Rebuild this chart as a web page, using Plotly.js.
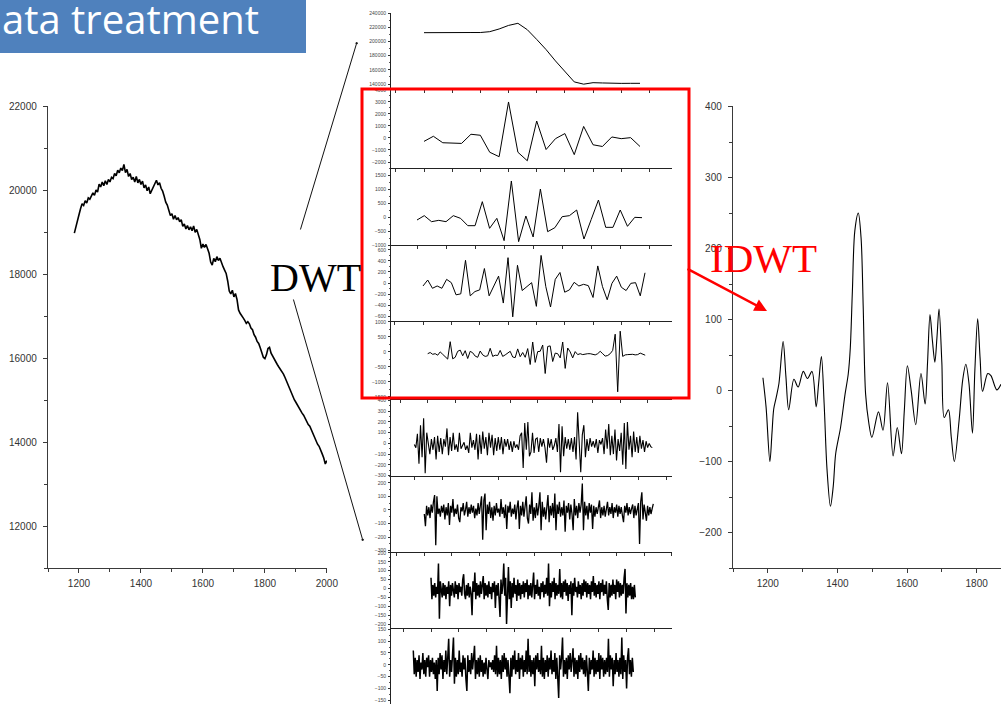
<!DOCTYPE html>
<html><head><meta charset="utf-8">
<script src="https://cdn.plot.ly/plotly-3.0.1.min.js"></script>
<style>html,body{margin:0;padding:0;background:#fff;overflow:hidden}#chart{width:1001px;height:704px}</style>
</head><body><div id="chart"></div>
<script>
// ---------- DATA ----------
// Left: raw spectrum (wavenumber sampled every 5 from 1185 to 2000)
const leftStart = 1185, leftStep = 5;
const leftY = [18980,19150,19330,19420,19560,19680,19640,19750,19700,19820,19790,19880,19940,19880,20010,19960,20150,20080,20200,20110,
20230,20140,20260,20200,20310,20280,20400,20350,20480,20420,20530,20470,20620,20420,20500,20330,20400,20260,20310,20200,
20330,20180,20260,20140,20220,20060,20130,19990,20080,19920,20000,20080,20170,20240,20130,20180,20050,19980,19860,19720,
19650,19550,19400,19440,19310,19400,19300,19350,19250,19300,19140,19200,19080,19160,19060,19130,19040,19150,19000,19070,
18960,18830,18620,18720,18640,18710,18610,18500,18290,18220,18380,18300,18420,18330,18380,18260,18180,18100,18020,17840,
17600,17530,17620,17460,17540,17400,17150,17070,17000,16960,16900,16830,16870,16820,16720,16680,16560,16500,16400,16350,
16250,16120,16020,15990,16080,16230,16260,16120,16050,15960,15920,15850,15790,15740,15690,15620,15540,15450,15380,15260,
15200,15090,15010,14950,14880,14820,14760,14690,14640,14560,14520,14420,14380,14290,14220,14130,14060,13950,13900,13780,
13720,13620,13480,13560];

// Middle: DWT coefficients (index-based)
const approxA = [212300,212500,212800,212800,212800,212500,212500,213700,217500,222500,225500,216500,202800,188500,172500,157000,143000,139800,141900,141500,140800,140900,141000,141000];
const detailB = [-283,142,-396,-396,-453,311,226,-1189,-1557,3000,-1189,-1896,1415,-962,-57,368,-1387,962,-566,-708,85,-57,28,-708];
const detailC = [-107,48,-167,-119,-167,48,-48,-310,-310,548,-405,-48,-845,1286,-881,36,-714,1000,-524,-381,12,48,250,-786,-90,607,-369,-369,250,-333,-12,-24];
const detailD = [-54,54,-96,-54,-96,66,6,-215,-197,412,-233,-155,-125,263,-233,-66,125,-364,460,-615,322,-137,-66,6,-424,501,-66,-436,66,191,-167,-125,12,-54,-24,-48,-263,310,-66,-304,-6,125,-78,-137,-6,6,-233,185];
const detailE = [-60,-20,-80,-60,-110,0,-80,-150,-240,340,-230,-180,20,60,-130,40,-220,20,-30,-140,-180,30,-100,-150,-130,120,-150,-110,-120,50,
-150,-100,-50,20,-170,-190,100,-160,-20,-180,110,-420,330,-350,10,20,230,-720,180,200,-320,-40,-60,-200,330,-550,130,0,-200,10,
-90,-60,-90,-70,-60,-60,-80,-100,-60,20,-60,-140,-120,-60,50,590,-1330,690,-150,-100,-90,-80,-80,-100,-90,-40,-80,-110];
const detailF = [-10,-40,90,-190,170,-130,235,-280,100,-30,-100,40,-60,60,-150,70,-80,50,-100,40,
-30,140,-110,60,-70,100,-60,-10,-80,100,-50,-20,10,-60,-20,-90,100,-40,30,-60,
90,-150,80,-100,110,-50,60,-110,100,-40,80,-110,50,-70,60,-60,60,-100,40,-30,
40,-60,20,-80,20,-40,-10,-60,70,100,-230,190,-60,200,-120,-80,100,-90,40,50,
-80,50,-30,40,-40,-180,50,-40,40,-60,-20,50,-80,180,-270,160,-120,60,-50,40,
-60,50,-80,60,-150,290,-30,-270,80,170,-130,40,-70,50,-30,20,-40,40,-90,30,
-10,50,-100,130,-50,180,-110,70,-100,130,-160,40,-70,100,-200,190,-240,200,-60,70,
-130,110,-80,60,-90,70,-50,30,-80,20,-40,0,-30,-40];
const detailG = [-30,-120,30,-40,20,-60,40,-20,60,110,-260,100,-30,10,-50,30,-20,40,-70,20,
-40,50,-110,30,-20,80,-50,10,-30,40,-60,-90,20,-10,50,-40,0,60,-50,20,
-30,40,-20,30,-60,10,-40,50,-30,20,100,-220,70,120,-150,40,-30,60,-60,20,
-80,30,-40,50,-20,10,-50,80,-30,20,-60,40,-140,30,-20,60,-50,10,-30,40,
-70,20,70,-140,30,-40,60,-50,20,100,-60,-100,40,-30,130,-80,20,-60,50,-40,
30,130,-150,60,-50,20,-70,40,110,-90,30,-40,50,-60,120,-150,40,-30,60,-50,
20,-40,70,-160,30,-20,50,-70,40,-30,-150,80,-40,30,-60,50,-20,40,195,-150,
60,-40,30,-70,50,-20,40,-140,30,-50,20,-30,40,70,-60,20,-40,30,-50,10,
60,-40,20,-30,50,-60,20,-20,40,-50,30,-30,20,-40,-90,30,-20,50,-40,20,
-30,10,40,-60,30,-40,20,50,-250,60,130,-70,40,-30,-80,30,-40,20,-30,10,45];
const detailH = [60,-60,20,-40,30,-50,10,-30,140,-170,40,-20,-50,30,-40,20,-60,10,-30,40,
-100,20,-40,30,-10,-50,40,-30,20,-60,30,-20,10,-40,50,80,-30,-60,20,-40,
30,-50,10,-30,-150,40,-20,90,-60,30,-40,20,-50,40,-30,10,70,-60,30,-40,
20,-50,40,-30,10,-60,30,-20,40,-110,20,-40,30,-60,-160,50,-30,20,140,-40,
60,-200,30,120,-60,40,-110,30,-50,60,-30,20,-70,50,-40,30,-60,20,-30,40,
-50,30,-20,50,-60,20,-40,30,-50,40,90,-60,20,-30,50,-40,10,-60,30,-20,
40,-50,20,-30,60,-40,140,-100,30,-50,40,-20,60,-60,30,-40,20,-30,110,-50,
30,-60,40,-20,50,-40,30,-70,20,-30,40,-150,30,-40,60,-20,10,-50,40,-30,
20,-60,30,-40,50,-20,40,-50,30,-30,20,-60,40,-20,70,-40,30,-50,20,-30,
40,-60,30,-20,50,-40,20,-30,40,-60,-120,30,-50,20,-40,50,-30,20,-60,50,
-20,40,-50,30,-40,20,-30,60,110,-140,30,-50,20,-40,30,-60,10,-60,20,-50];
const detailI = [60,-40,30,-50,20,-30,40,-60,10,-20,50,-40,20,-50,30,-10,40,-50,20,-30,
30,-40,10,-60,20,-110,30,-40,50,-20,40,-60,20,-30,60,-40,30,110,-50,20,
-30,40,115,-80,30,-50,20,-40,60,-30,10,-50,40,-20,30,-60,-110,40,-30,20,
-40,50,-20,30,80,-60,20,-40,30,-50,40,-30,20,-50,10,-40,30,-20,-60,20,
-10,10,-20,20,-30,40,-40,80,-50,30,-40,20,-60,40,-30,50,-20,30,-50,20,
-40,-120,30,-50,40,-20,60,-40,20,-30,50,-60,30,-20,40,-50,20,-30,60,-40,
110,-30,40,-50,20,-40,30,-90,40,-20,50,-30,20,-40,80,-50,30,-60,20,-30,
40,-50,30,-20,60,-40,20,-30,50,-60,30,-40,-140,40,-20,30,115,-50,20,-40,
30,-60,40,-20,50,-30,20,70,-50,30,-40,20,-60,40,-30,50,-20,30,-40,20,
-50,40,-30,-110,30,-40,20,-20,60,-50,30,-40,20,-30,50,-60,40,-20,30,-50,
20,-40,30,-30,110,-50,40,-20,30,-90,20,-40,50,-30,20,-50,30,-40,115,-60,
40,-30,20,-100,30,70,-40,20,-50,30,-30];

// Right: reconstructed (IDWT) signal
const rightX = [1186,1195,1206,1212,1217,1224,1232,1244,1252,1260,1275,1287,1302,1314,1327,1339,1346,1354,1362,1370,
1380,1388,1395,1409,1422,1431,1437,1443,1450,1460,1468,1474,1481,1490,1499,1518,1531,1544,1560,1572,
1584,1592,1601,1612,1625,1640,1652,1659,1666,1673,1680,1686,1692,1700,1707,1719,1727,1736,1750,1760,
1769,1778,1788,1795,1803,1810,1817,1832,1841,1858,1870];
const rightY = [18,-23,-100,-60,-26,-10,10,69,20,-27,16,5,27,17,27,-23,10,48,-20,-110,
-163,-135,-89,-52,-5,23,60,140,225,250,215,120,-5,-45,-66,-30,-56,11,-92,-52,
-89,-30,35,0,-48,24,-19,40,107,70,40,75,115,40,-38,-27,-65,-100,-40,15,
37,10,-60,30,101,45,-1,24,21,1,9];

// Texts
const titleText = 'ata treatment';
const dwtText = 'DWT';
const idwtText = 'IDWT';

// ---------- LAYOUT ----------
const W = 1001, H = 704;
const fx = p => p / W, fy = p => 1 - p / H;
const AX = 'Liberation Sans, Arial, sans-serif';

const leftX = leftY.map((_, i) => leftStart + i * leftStep);

const traces = [];
const layout = {
  width: W, height: H, margin: {l:0, r:0, t:0, b:0},
  paper_bgcolor: '#fff', plot_bgcolor: 'rgba(0,0,0,0)', showlegend: false,
  shapes: [], annotations: []
};

function baseAxis(extra) {
  return Object.assign({
    showline: true, linecolor: '#3a3a3a', linewidth: 1.2, showgrid: false, zeroline: false,
    ticks: 'outside', ticklen: 4, tickwidth: 1, tickcolor: '#3a3a3a',
    tickfont: {family: AX, size: 10, color: '#333'}, tickformat: 'd', fixedrange: true
  }, extra);
}

// left chart
traces.push({x: leftX, y: leftY, xaxis: 'x', yaxis: 'y', type: 'scatter', mode: 'lines',
  line: {color: '#000', width: 1.6}, hoverinfo: 'skip'});
layout.xaxis = baseAxis({domain: [fx(48), fx(327)], range: [1100, 2000.5], anchor: 'y',
  tick0: 1200, dtick: 200, minor: {ticks: 'outside', ticklen: 2.5, dtick: 100, tick0: 1100, tickcolor: '#3a3a3a'}, ticklabelstandoff: 2});
layout.yaxis = baseAxis({domain: [fy(568), fy(106)], range: [11000, 22010], anchor: 'x',
  tick0: 12000, dtick: 2000, minor: {ticks: 'outside', ticklen: 2.5, dtick: 1000, tick0: 11000, tickcolor: '#3a3a3a'}, ticklabelstandoff: 4});

// right chart
traces.push({x: rightX, y: rightY, xaxis: 'x2', yaxis: 'y2', type: 'scatter', mode: 'lines',
  line: {color: '#000', width: 1.1, shape: 'spline', smoothing: 0.9}, hoverinfo: 'skip'});
layout.xaxis2 = baseAxis({domain: [fx(733), 1], range: [1100, 1870], anchor: 'y2',
  tick0: 1200, dtick: 200, minor: {ticks: 'outside', ticklen: 2.5, dtick: 100, tick0: 1100, tickcolor: '#3a3a3a'}, ticklabelstandoff: 2});
layout.yaxis2 = baseAxis({domain: [fy(568), fy(106)], range: [-250, 401], anchor: 'x2',
  tick0: 0, dtick: 100, minor: {ticks: 'outside', ticklen: 2.5, dtick: 50, tick0: 0, tickcolor: '#3a3a3a'}, ticklabelstandoff: 4});

// middle stack
const panels = [
  {v: approxA, p0: 424, p1: 640, top: 13, bot: 89, yr: [133000, 240001], dt: 20000, xdt: 3, lw: 1},
  {v: detailB, p0: 424, p1: 640, top: 89, bot: 168, yr: [-2500, 4080], dt: 1000, xdt: 3, lw: 1},
  {v: detailC, p0: 417, p1: 642, top: 168, bot: 245, yr: [-1000, 1750], dt: 500, xdt: 4, lw: 1},
  {v: detailD, p0: 423, p1: 645, top: 245, bot: 321, yr: [-690, 690], dt: 200, xdt: 6, lw: 1},
  {v: detailE, p0: 427.7, p1: 645.2, top: 321, bot: 399, yr: [-1570, 1030], dt: 500, xdt: 11, lw: 1},
  {v: detailF, p0: 414.3, p1: 652.3, top: 399, bot: 476, yr: [-305, 415], dt: 100, xdt: 18, lw: 1.1},
  {v: detailG, p0: 424.3, p1: 653.3, top: 476, bot: 552, yr: [-310, 250], dt: 100, xdt: 24, lw: 1.3},
  {v: detailH, p0: 431, p1: 635.3, top: 552, bot: 628, yr: [-222, 205], dt: 50, xdt: 30, lw: 1.5},
  {v: detailI, p0: 413.3, p1: 633.3, top: 628, bot: 704, yr: [-165, 155], dt: 50, xdt: 29, lw: 1.5}
];
const axL = 391, axR = 672;
panels.forEach((p, i) => {
  const n = i + 3;
  const xs = p.v.map((_, k) => k);
  const s = (p.p1 - p.p0) / (p.v.length - 1);
  traces.push({x: xs, y: p.v, xaxis: 'x' + n, yaxis: 'y' + n, type: 'scatter', mode: 'lines',
    line: {color: '#000', width: p.lw}, hoverinfo: 'skip'});
  layout['xaxis' + n] = {
    domain: [fx(axL), fx(axR)], range: [(axL - p.p0) / s, (axR - p.p0) / s], anchor: 'y' + n,
    showline: true, linecolor: '#222', linewidth: 1, showgrid: false, zeroline: false,
    showticklabels: false, ticks: 'outside', ticklen: 2.5, tickcolor: '#333', tick0: 0, dtick: p.xdt, fixedrange: true
  };
  layout['yaxis' + n] = {
    domain: [fy(p.bot), fy(p.top)], range: p.yr, anchor: 'x' + n,
    showline: true, linecolor: '#222', linewidth: 1, showgrid: false, zeroline: false,
    ticks: 'outside', ticklen: 2, tickcolor: '#333', tick0: 0, dtick: p.dt, tickformat: 'd',
    minor: {ticks: 'outside', ticklen: 1.2, dtick: p.dt / 2, tick0: 0, tickcolor: '#555'},
    tickfont: {family: AX, size: 5, color: '#444'}, ticklabelstandoff: 1, fixedrange: true
  };
});

// title box
layout.shapes.push({type: 'rect', xref: 'paper', yref: 'paper', x0: 0, x1: fx(306), y0: fy(53), y1: 1,
  fillcolor: '#4F81BD', line: {width: 0}, layer: 'above'});
// red rectangle around detail panels
layout.shapes.push({type: 'rect', xref: 'paper', yref: 'paper', x0: fx(362), x1: fx(689), y0: fy(398), y1: fy(89),
  fillcolor: 'rgba(0,0,0,0)', line: {color: '#FF0000', width: 3}, layer: 'above'});

layout.annotations.push(
  {xref: 'paper', yref: 'paper', x: 0, y: fy(19), xanchor: 'left', yanchor: 'middle', showarrow: false,
   text: titleText, font: {family: 'Open Sans, Noto Sans, sans-serif', size: 40, color: '#fff'}},
  {xref: 'paper', yref: 'paper', x: fx(268), y: fy(277), xanchor: 'left', yanchor: 'middle', showarrow: false,
   text: dwtText, font: {family: 'Liberation Serif, Times New Roman, serif', size: 40, color: '#000'}},
  {xref: 'paper', yref: 'paper', x: fx(708), y: fy(258), xanchor: 'left', yanchor: 'middle', showarrow: false,
   text: idwtText, font: {family: 'Liberation Serif, Times New Roman, serif', size: 41, color: '#FF0000'}},
  {xref: 'paper', yref: 'paper', x: fx(767), y: fy(311), ax: -81, ay: -43, text: '', showarrow: true,
   arrowhead: 2, arrowsize: 1, arrowwidth: 2.5, arrowcolor: '#FF0000'},
  {xref: 'paper', yref: 'paper', x: fx(357), y: fy(42), ax: -57, ay: 189, text: '', showarrow: true,
   arrowhead: 1, arrowsize: 0.6, arrowwidth: 1, arrowcolor: '#111'},
  {xref: 'paper', yref: 'paper', x: fx(363), y: fy(541), ax: -70, ay: -243, text: '', showarrow: true,
   arrowhead: 1, arrowsize: 0.6, arrowwidth: 1, arrowcolor: '#111'}
);

Plotly.newPlot('chart', traces, layout, {staticPlot: true, displayModeBar: false});
</script></body></html>
